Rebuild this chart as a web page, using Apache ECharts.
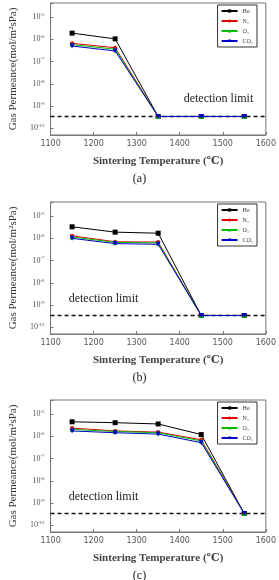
<!DOCTYPE html>
<html>
<head>
<meta charset="utf-8">
<script src="https://cdn.jsdelivr.net/npm/echarts@6/dist/echarts.min.js"></script>
<style>
html, body { margin: 0; padding: 0; background: #fff; }
#chart { width: 279px; height: 580px; }
</style>
</head>
<body>
<div id="chart"></div>
<script>
// sintering temperatures (℃)
var temps = [1150, 1250, 1350, 1450, 1550]
var gases = ['He', 'N₂', 'O₂', 'CO₂']
var detectionLimit = 3.4e-10
var xRange = [1100, 1600]

// (a)
var heA = [1.9e-6, 1.05e-6, 3.4e-10, 3.4e-10, 3.4e-10]
var n2A = [6.6e-7, 4.2e-7, 3.4e-10, 3.4e-10, 3.4e-10]
var o2A = [5.8e-7, 3.6e-7, 3.4e-10, 3.4e-10, 3.4e-10]
var co2A = [5.0e-7, 3.0e-7, 3.4e-10, 3.4e-10, 3.4e-10]
// (b)
var heB = [3.3e-6, 1.9e-6, 1.7e-6, 3.4e-10, 3.4e-10]
var n2B = [1.3e-6, 7.0e-7, 6.8e-7, 3.4e-10, 3.4e-10]
var o2B = [1.15e-6, 6.6e-7, 6.2e-7, 3.4e-10, 3.4e-10]
var co2B = [1.0e-6, 5.8e-7, 5.4e-7, 3.4e-10, 3.4e-10]
// (c)
var heC = [4.5e-6, 4.1e-6, 3.6e-6, 1.2e-6, 3.4e-10]
var n2C = [2.35e-6, 1.75e-6, 1.55e-6, 7.0e-7, 3.4e-10]
var o2C = [2.05e-6, 1.65e-6, 1.45e-6, 6.2e-7, 3.4e-10]
var co2C = [1.75e-6, 1.45e-6, 1.26e-6, 5.2e-7, 3.4e-10]

var panels = [
  { caption: '(a)', data: [heA, n2A, o2A, co2A], note: [1490, 2.1e-9] },
  { caption: '(b)', data: [heB, n2B, o2B, co2B], note: [1223, 1.9e-9] },
  { caption: '(c)', data: [heC, n2C, o2C, co2C], note: [1223, 1.9e-9] }
]
var gridTops = [3, 202, 400]

var colors = ['#000000', '#e00000', '#00c000', '#0000c8']
var symbols = ['rect', 'circle', 'triangle', 'triangle']
var symbolSizes = [5, 4, 5, 5]
var symbolRotates = [0, 0, 0, 180]

var serif = '"Liberation Serif", "DejaVu Serif", serif'

function yLabel (v) {
  var e = Math.log10(v)
  if (Math.abs(e - Math.round(e)) > 0.01) return ''
  return '{b|10}{s|' + Math.round(e) + '}'
}

var grid = [], xAxis = [], yAxis = [], series = [], legend = [], title = []
panels.forEach(function (p, i) {
  var top = gridTops[i]
  grid.push({
    left: 42, top: top, width: 227, height: 132,
    show: true, borderColor: '#777', borderWidth: 1, backgroundColor: '#fff'
  })
  xAxis.push({
    gridIndex: i, type: 'value', min: xRange[0], max: xRange[1], interval: 100,
    name: 'Sintering Temperature (℃)', nameLocation: 'middle', nameGap: 21,
    nameTextStyle: { fontFamily: serif, fontSize: 11, fontWeight: 'bold', color: '#444' },
    axisLine: { lineStyle: { color: '#777' } },
    axisTick: { inside: true, length: 3, lineStyle: { color: '#777' } },
    axisLabel: {
      fontFamily: '"DejaVu Sans", sans-serif', fontSize: 8, color: '#555', margin: 5,
      formatter: function (v) { return String(v) }
    },
    splitLine: { show: false }
  })
  yAxis.push({
    gridIndex: i, type: 'log', min: 5e-11, max: 4.3e-5,
    name: 'Gas Permeance(mol/m²sPa)', nameLocation: 'middle', nameGap: 30,
    nameTextStyle: { fontFamily: serif, fontSize: 11, color: '#333' },
    axisLine: { lineStyle: { color: '#777' } },
    axisTick: { inside: true, length: 3, lineStyle: { color: '#777' } },
    axisLabel: {
      formatter: yLabel, margin: 6,
      rich: {
        b: { fontFamily: serif, fontSize: 8, color: '#555' },
        s: { fontFamily: serif, fontSize: 5, color: '#555', verticalAlign: 'top', padding: [0, 0, 5, 0] }
      }
    },
    splitLine: { show: false }
  })
  // detection limit, dashed across the whole plot
  series.push({
    name: 'detection limit', type: 'line', xAxisIndex: i, yAxisIndex: i,
    data: [[xRange[0], detectionLimit], [xRange[1], detectionLimit]],
    symbol: 'none', silent: true,
    lineStyle: { color: '#111', type: [4, 3], width: 1.5 },
    z: 1,
    markPoint: {
      symbol: 'circle', symbolSize: 0,
      label: { show: true, formatter: 'detection limit', fontFamily: serif, fontSize: 12, color: '#222' },
      data: [{ coord: p.note }]
    }
  })
  p.data.forEach(function (vals, g) {
    series.push({
      name: gases[g], type: 'line', xAxisIndex: i, yAxisIndex: i,
      data: temps.map(function (t, k) { return [t, vals[k]] }),
      symbol: symbols[g], symbolSize: symbolSizes[g], symbolRotate: symbolRotates[g],
      showAllSymbol: true,
      lineStyle: { width: 1, color: colors[g] },
      itemStyle: { color: colors[g] },
      z: 2 + g
    })
  })
  legend.push({
    data: gases, orient: 'vertical', right: 22, top: top + 2,
    itemWidth: 16, itemHeight: 4, itemGap: 4,
    padding: [3, 4, 3, 3], borderColor: '#333', borderWidth: 1,
    textStyle: { fontFamily: serif, fontSize: 6, color: '#333' }
  })
  title.push({
    text: p.caption, left: 'center', top: top + 165,
    textStyle: { fontFamily: serif, fontSize: 12, fontWeight: 'normal', color: '#222' }
  })
})

var chart = echarts.init(document.getElementById('chart'))
chart.setOption({
  backgroundColor: '#fff',
  animation: false,
  title: title,
  legend: legend,
  grid: grid,
  xAxis: xAxis,
  yAxis: yAxis,
  series: series
})
</script>
</body>
</html>
